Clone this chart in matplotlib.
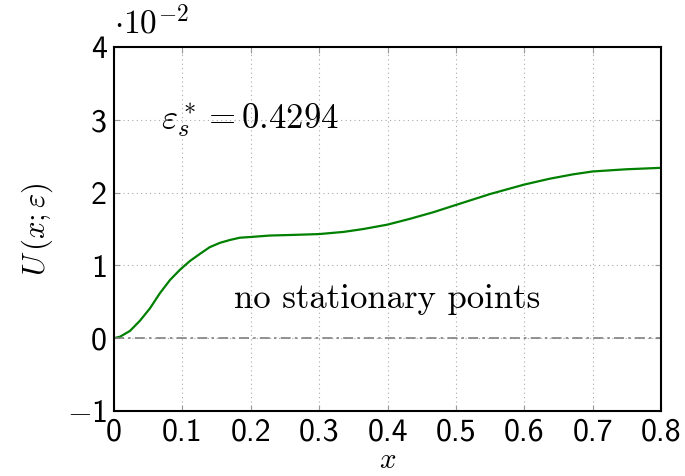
import numpy as np
import matplotlib
matplotlib.use("Agg")
import matplotlib.pyplot as plt

plt.rcParams['mathtext.fontset'] = 'cm'
plt.rcParams['axes.unicode_minus'] = False

# potential U(x; eps) at eps*_s, in units of 1e-2
x = [0.0, 0.0088, 0.0234, 0.038, 0.0526, 0.0673, 0.082, 0.0965, 0.111, 0.126,
     0.140, 0.155, 0.170, 0.184, 0.2, 0.228, 0.267, 0.3, 0.336, 0.365, 0.4,
     0.433, 0.467, 0.5, 0.520, 0.550, 0.6, 0.637, 0.671, 0.7, 0.749, 0.8]
u = [0.0, 0.02, 0.10, 0.24, 0.41, 0.62, 0.80, 0.94, 1.06, 1.16,
     1.25, 1.31, 1.35, 1.38, 1.39, 1.41, 1.42, 1.43, 1.46, 1.50, 1.56,
     1.64, 1.73, 1.83, 1.89, 1.98, 2.11, 2.19, 2.25, 2.29, 2.32, 2.34]

xticks = [0, 0.1, 0.2, 0.3, 0.4, 0.5, 0.6, 0.7, 0.8]
yticks = [-1, 0, 1, 2, 3, 4]

fig = plt.figure(figsize=(6.85, 4.76), dpi=100)
ax = fig.add_axes([0.1664, 0.1366, 0.7986, 0.7647])

ax.plot(x, u, '-', color='#008000', lw=1.6, solid_capstyle='round',
        solid_joinstyle='round')
ax.axhline(0, color='#808080', lw=1.2, dashes=[6, 2.5, 1.5, 2.5])

ax.set_xlim(0, 0.8)
ax.set_ylim(-1, 4)
ax.set_xticks(xticks)
ax.set_yticks(yticks)
ax.set_xticklabels(['0' if t == 0 else '%g' % t for t in xticks], family='cmss10')
ax.set_yticklabels([r'$-$1' if t < 0 else str(t) for t in yticks], family='cmss10')
ax.tick_params(direction='in', length=4, width=0.8, color='#999999',
               labelsize=23, top=True, right=True, pad=5)
ax.grid(True, linestyle=(0, (1, 3)), color='#aaaaaa', lw=0.8)
for s in ax.spines.values():
    s.set_linewidth(1.5)

ax.set_xlabel(r'$x$', fontsize=21, labelpad=-1)
ax.set_ylabel(r'$U\,(x;\varepsilon)$', fontsize=22, labelpad=8)

ax.text(0.0, 4.08, r'$\cdot 10^{-2}$', fontsize=24, ha='left', va='bottom')
ax.text(0.069, 3.0, r'$\varepsilon_s^* = 0.4294$', fontsize=25, ha='left', va='center')
ax.text(0.40, 0.53, 'no stationary points', fontsize=25, ha='center', va='center',
        family='cmr10')

fig.savefig('out.png', dpi=100)
